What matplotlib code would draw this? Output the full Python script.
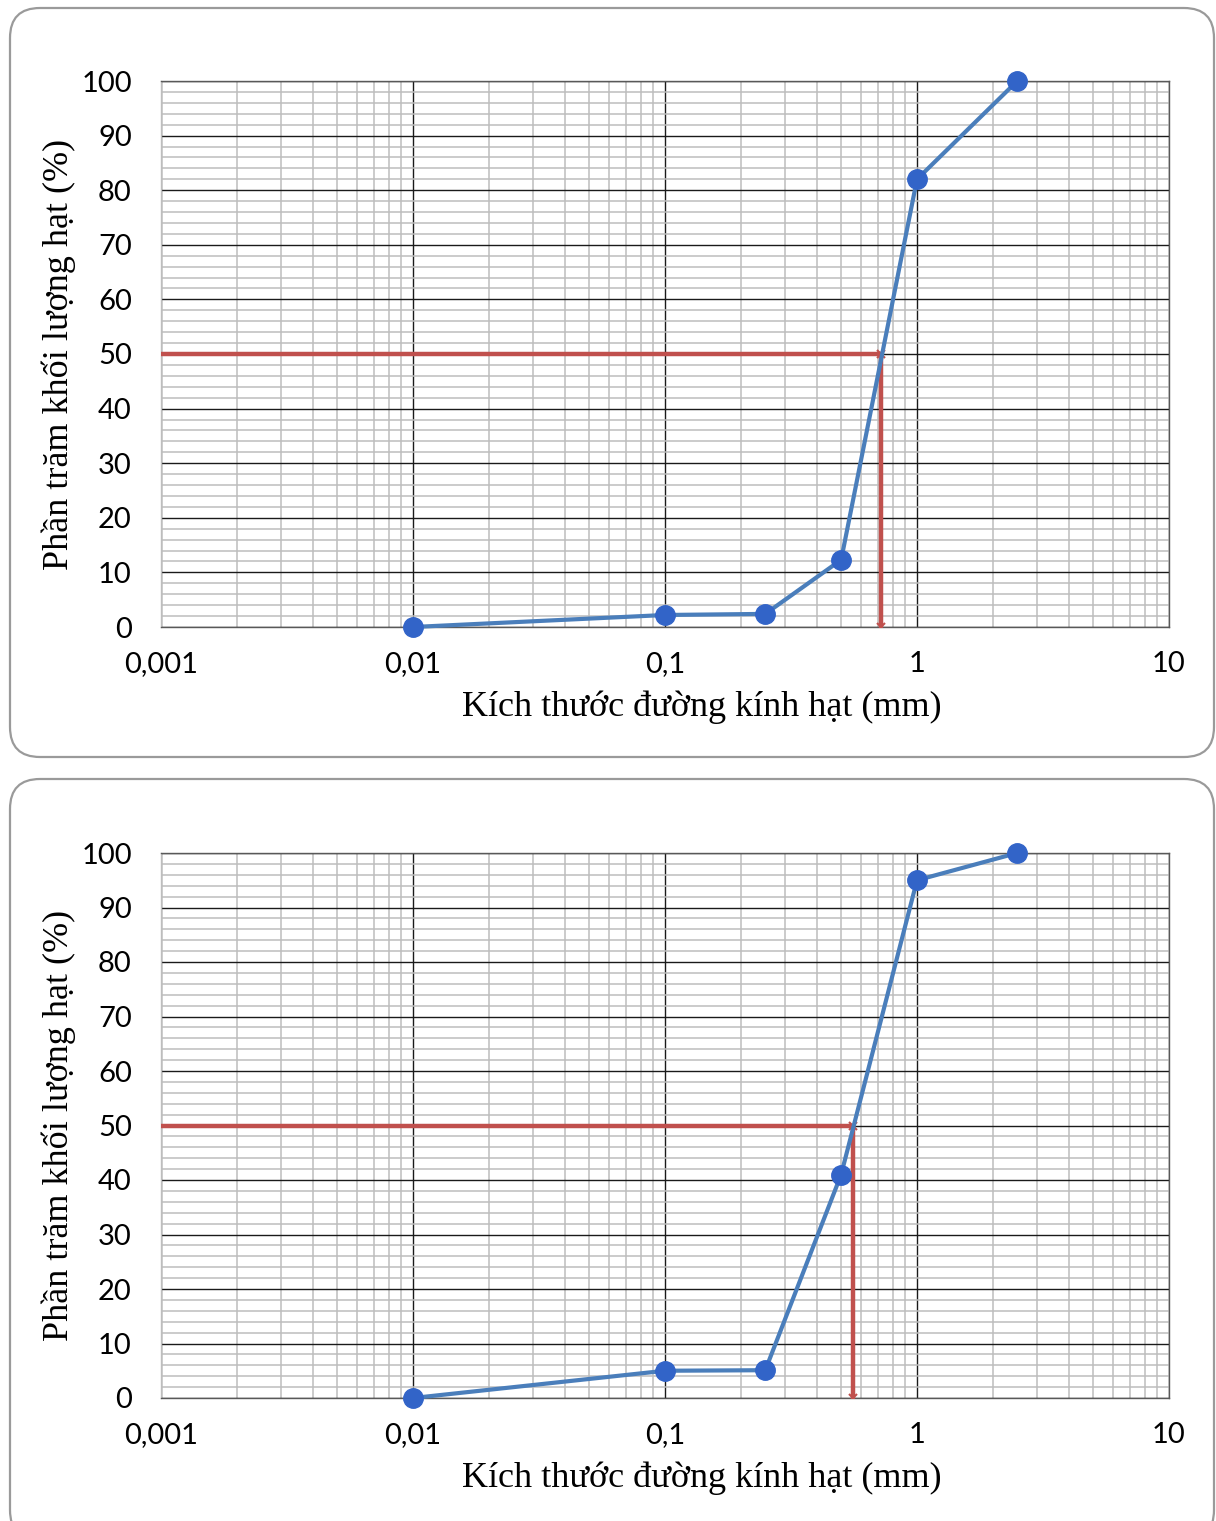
import numpy as np
import matplotlib.pyplot as plt
from matplotlib.patches import FancyBboxPatch
from matplotlib.ticker import FixedLocator, LogLocator, MultipleLocator, NullFormatter

# grain-size distribution data (two samples)
diam = [0.01, 0.1, 0.25, 0.5, 1.0, 2.5]
pass_top = [0, 2.2, 2.4, 12.3, 82, 100]
pass_bot = [0, 5.0, 5.1, 41, 95, 100]
d50_top = 0.72
d50_bot = 0.557

xticks = [0.001, 0.01, 0.1, 1, 10]
xtick_labels = ["0,001", "0,01", "0,1", "1", "10"]
yticks = list(range(0, 101, 10))

xlabel = "Kích thước đường kính hạt (mm)"
ylabel = "Phần trăm khối lượng hạt (%)"

W, H = 1216, 1521
fig = plt.figure(figsize=(W / 100, H / 100), dpi=100)

# background layer with rounded panel frames (pixel coords)
bg = fig.add_axes([0, 0, 1, 1], zorder=0)
bg.set_xlim(0, W)
bg.set_ylim(H, 0)
bg.axis("off")
for (y0, y1) in [(8, 757), (779, 1540)]:
    box = FancyBboxPatch((10, y0), 1204, y1 - y0, boxstyle="round,pad=0,rounding_size=30",
                         fc="white", ec="#9a9a9a", lw=1.6)
    bg.add_patch(box)

line_c = "#4a7ebb"
mark_c = "#3264c8"
red_c = "#c0504d"


def panel(rect, y, d50):
    ax = fig.add_axes(rect, zorder=1)
    ax.set_xscale("log")
    ax.set_xlim(0.001, 10)
    ax.set_ylim(0, 100)
    ax.patch.set_alpha(0)

    ax.xaxis.set_major_locator(FixedLocator(xticks))
    ax.set_xticklabels(xtick_labels)
    ax.xaxis.set_minor_locator(LogLocator(base=10, subs=np.arange(2, 10)))
    ax.xaxis.set_minor_formatter(NullFormatter())
    ax.set_yticks(yticks)
    ax.yaxis.set_minor_locator(MultipleLocator(2))

    ax.grid(which="minor", color="#bdbdbd", lw=1.1, zorder=0)
    ax.grid(which="major", color="#1a1a1a", lw=1.0, zorder=0.5)
    ax.set_axisbelow(True)
    for s in ax.spines.values():
        s.set_color("#595959")
        s.set_linewidth(1.0)
    ax.spines["left"].set_color("#bdbdbd")

    ax.tick_params(which="both", length=0)
    ax.tick_params(axis="x", pad=17, labelsize=21)
    ax.tick_params(axis="y", pad=21, labelsize=21)
    for lab in ax.get_xticklabels() + ax.get_yticklabels():
        lab.set_fontfamily("Lato")

    # D50 construction lines
    ax.plot([0.001, d50], [50, 50], color=red_c, lw=3.2, zorder=3)
    ax.plot([d50, d50], [50, 0], color=red_c, lw=3.2, zorder=3,
            marker="x", ms=6, mew=1.5)

    ax.plot(diam, y, color=line_c, lw=3, marker="o", ms=14,
            mfc=mark_c, mec=mark_c, zorder=4, clip_on=False)

    ax.set_xlabel(xlabel, fontfamily="Liberation Serif", fontsize=26, labelpad=10)
    ax.set_ylabel(ylabel, fontfamily="Liberation Serif", fontsize=26, labelpad=4)
    ax.xaxis.label.set_x(0.537)
    return ax


ax_w = 1008 / W
panel([161 / W, 1 - 627 / H, ax_w, 546 / H], pass_top, d50_top)
panel([161 / W, 1 - 1398 / H, ax_w, 545 / H], pass_bot, d50_bot)

fig.savefig("out.png", dpi=100)
